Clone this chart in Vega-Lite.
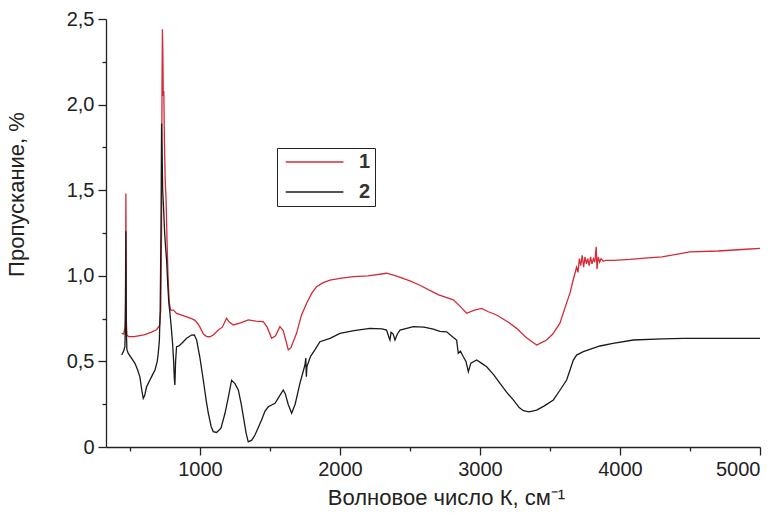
{
  "$schema": "https://vega.github.io/schema/vega-lite/v6.json",
  "autosize": {"type": "none"},
  "width": 654,
  "height": 428,
  "padding": {"left": 106, "top": 19, "right": 22, "bottom": 68},
  "background": "white",
  "config": {
    "view": {"stroke": null},
    "font": "Liberation Sans",
    "axis": {
      "domainColor": "#222",
      "tickColor": "#222",
      "labelColor": "#222",
      "titleColor": "#222",
      "labelFont": "Liberation Sans",
      "titleFont": "Liberation Sans",
      "labelFontSize": 20,
      "titleFontSize": 22,
      "titleFontWeight": "normal",
      "grid": false,
      "domainWidth": 1.3,
      "tickWidth": 1.3
    }
  },
  "data": {"values": [
    {"s":"1","x":441,"y":0.665},{"s":"1","x":455,"y":0.66},{"s":"1","x":465,"y":0.70},{"s":"1","x":468,"y":0.85},{"s":"1","x":471,"y":1.48},{"s":"1","x":474,"y":0.75},{"s":"1","x":478,"y":0.655},{"s":"1","x":490,"y":0.645},{"s":"1","x":530,"y":0.645},{"s":"1","x":600,"y":0.655},{"s":"1","x":650,"y":0.67},{"s":"1","x":690,"y":0.685},{"s":"1","x":712,"y":0.71},{"s":"1","x":720,"y":0.80},{"s":"1","x":726,"y":1.30},{"s":"1","x":729,"y":2.10},{"s":"1","x":732,"y":2.44},{"s":"1","x":735,"y":2.30},{"s":"1","x":738,"y":2.05},{"s":"1","x":742,"y":2.08},{"s":"1","x":746,"y":1.80},{"s":"1","x":752,"y":1.55},{"s":"1","x":758,"y":1.45},{"s":"1","x":765,"y":1.20},{"s":"1","x":772,"y":1.00},{"s":"1","x":780,"y":0.85},{"s":"1","x":790,"y":0.80},{"s":"1","x":810,"y":0.80},{"s":"1","x":833,"y":0.78},{"s":"1","x":870,"y":0.77},{"s":"1","x":905,"y":0.76},{"s":"1","x":940,"y":0.75},{"s":"1","x":964,"y":0.74},{"s":"1","x":985,"y":0.72},{"s":"1","x":1000,"y":0.70},{"s":"1","x":1025,"y":0.66},{"s":"1","x":1048,"y":0.645},{"s":"1","x":1071,"y":0.644},{"s":"1","x":1095,"y":0.654},{"s":"1","x":1131,"y":0.683},{"s":"1","x":1160,"y":0.70},{"s":"1","x":1190,"y":0.752},{"s":"1","x":1210,"y":0.73},{"s":"1","x":1238,"y":0.713},{"s":"1","x":1290,"y":0.725},{"s":"1","x":1345,"y":0.742},{"s":"1","x":1400,"y":0.735},{"s":"1","x":1452,"y":0.732},{"s":"1","x":1480,"y":0.70},{"s":"1","x":1512,"y":0.635},{"s":"1","x":1540,"y":0.65},{"s":"1","x":1571,"y":0.703},{"s":"1","x":1595,"y":0.68},{"s":"1","x":1631,"y":0.567},{"s":"1","x":1650,"y":0.58},{"s":"1","x":1690,"y":0.664},{"s":"1","x":1725,"y":0.77},{"s":"1","x":1762,"y":0.84},{"s":"1","x":1800,"y":0.90},{"s":"1","x":1833,"y":0.936},{"s":"1","x":1880,"y":0.96},{"s":"1","x":1929,"y":0.975},{"s":"1","x":2000,"y":0.985},{"s":"1","x":2095,"y":0.995},{"s":"1","x":2200,"y":1.00},{"s":"1","x":2333,"y":1.015},{"s":"1","x":2400,"y":1.00},{"s":"1","x":2500,"y":0.97},{"s":"1","x":2571,"y":0.945},{"s":"1","x":2700,"y":0.89},{"s":"1","x":2810,"y":0.86},{"s":"1","x":2860,"y":0.82},{"s":"1","x":2905,"y":0.781},{"s":"1","x":2960,"y":0.80},{"s":"1","x":3012,"y":0.81},{"s":"1","x":3060,"y":0.79},{"s":"1","x":3119,"y":0.771},{"s":"1","x":3200,"y":0.73},{"s":"1","x":3262,"y":0.693},{"s":"1","x":3330,"y":0.64},{"s":"1","x":3405,"y":0.596},{"s":"1","x":3440,"y":0.61},{"s":"1","x":3476,"y":0.625},{"s":"1","x":3520,"y":0.66},{"s":"1","x":3571,"y":0.723},{"s":"1","x":3610,"y":0.82},{"s":"1","x":3643,"y":0.90},{"s":"1","x":3667,"y":0.98},{"s":"1","x":3690,"y":1.05},{"s":"1","x":3700,"y":1.02},{"s":"1","x":3710,"y":1.10},{"s":"1","x":3720,"y":1.06},{"s":"1","x":3730,"y":1.12},{"s":"1","x":3740,"y":1.05},{"s":"1","x":3750,"y":1.11},{"s":"1","x":3760,"y":1.07},{"s":"1","x":3770,"y":1.10},{"s":"1","x":3780,"y":1.06},{"s":"1","x":3790,"y":1.11},{"s":"1","x":3800,"y":1.07},{"s":"1","x":3810,"y":1.10},{"s":"1","x":3820,"y":1.08},{"s":"1","x":3830,"y":1.17},{"s":"1","x":3836,"y":1.04},{"s":"1","x":3845,"y":1.11},{"s":"1","x":3855,"y":1.08},{"s":"1","x":3865,"y":1.10},{"s":"1","x":3880,"y":1.085},{"s":"1","x":3900,"y":1.09},{"s":"1","x":3952,"y":1.09},{"s":"1","x":4071,"y":1.096},{"s":"1","x":4200,"y":1.105},{"s":"1","x":4300,"y":1.11},{"s":"1","x":4500,"y":1.14},{"s":"1","x":4700,"y":1.145},{"s":"1","x":4900,"y":1.155},{"s":"1","x":5000,"y":1.16},
    {"s":"2","x":441,"y":0.537},{"s":"2","x":455,"y":0.56},{"s":"2","x":464,"y":0.586},{"s":"2","x":468,"y":0.75},{"s":"2","x":471,"y":1.26},{"s":"2","x":474,"y":0.70},{"s":"2","x":478,"y":0.57},{"s":"2","x":488,"y":0.547},{"s":"2","x":510,"y":0.52},{"s":"2","x":536,"y":0.489},{"s":"2","x":555,"y":0.45},{"s":"2","x":571,"y":0.41},{"s":"2","x":585,"y":0.33},{"s":"2","x":595,"y":0.284},{"s":"2","x":605,"y":0.30},{"s":"2","x":619,"y":0.352},{"s":"2","x":630,"y":0.37},{"s":"2","x":643,"y":0.391},{"s":"2","x":660,"y":0.42},{"s":"2","x":679,"y":0.45},{"s":"2","x":695,"y":0.50},{"s":"2","x":702,"y":0.547},{"s":"2","x":710,"y":0.62},{"s":"2","x":716,"y":0.80},{"s":"2","x":722,"y":1.30},{"s":"2","x":726,"y":1.89},{"s":"2","x":730,"y":1.70},{"s":"2","x":734,"y":1.50},{"s":"2","x":740,"y":1.40},{"s":"2","x":748,"y":1.25},{"s":"2","x":756,"y":1.15},{"s":"2","x":762,"y":1.09},{"s":"2","x":770,"y":0.95},{"s":"2","x":778,"y":0.84},{"s":"2","x":786,"y":0.78},{"s":"2","x":795,"y":0.70},{"s":"2","x":805,"y":0.60},{"s":"2","x":812,"y":0.50},{"s":"2","x":817,"y":0.40},{"s":"2","x":821,"y":0.362},{"s":"2","x":826,"y":0.50},{"s":"2","x":833,"y":0.586},{"s":"2","x":850,"y":0.59},{"s":"2","x":869,"y":0.605},{"s":"2","x":905,"y":0.635},{"s":"2","x":940,"y":0.654},{"s":"2","x":960,"y":0.655},{"s":"2","x":976,"y":0.625},{"s":"2","x":1000,"y":0.52},{"s":"2","x":1024,"y":0.39},{"s":"2","x":1045,"y":0.27},{"s":"2","x":1060,"y":0.197},{"s":"2","x":1080,"y":0.12},{"s":"2","x":1095,"y":0.09},{"s":"2","x":1119,"y":0.085},{"s":"2","x":1150,"y":0.11},{"s":"2","x":1179,"y":0.197},{"s":"2","x":1205,"y":0.30},{"s":"2","x":1226,"y":0.39},{"s":"2","x":1250,"y":0.37},{"s":"2","x":1274,"y":0.333},{"s":"2","x":1295,"y":0.25},{"s":"2","x":1310,"y":0.177},{"s":"2","x":1330,"y":0.08},{"s":"2","x":1345,"y":0.03},{"s":"2","x":1370,"y":0.04},{"s":"2","x":1393,"y":0.07},{"s":"2","x":1420,"y":0.12},{"s":"2","x":1440,"y":0.158},{"s":"2","x":1465,"y":0.21},{"s":"2","x":1488,"y":0.235},{"s":"2","x":1536,"y":0.255},{"s":"2","x":1570,"y":0.30},{"s":"2","x":1595,"y":0.333},{"s":"2","x":1610,"y":0.31},{"s":"2","x":1630,"y":0.25},{"s":"2","x":1655,"y":0.197},{"s":"2","x":1680,"y":0.25},{"s":"2","x":1714,"y":0.372},{"s":"2","x":1740,"y":0.45},{"s":"2","x":1750,"y":0.479},{"s":"2","x":1756,"y":0.52},{"s":"2","x":1760,"y":0.41},{"s":"2","x":1764,"y":0.47},{"s":"2","x":1790,"y":0.53},{"s":"2","x":1821,"y":0.567},{"s":"2","x":1857,"y":0.615},{"s":"2","x":1929,"y":0.635},{"s":"2","x":2000,"y":0.664},{"s":"2","x":2100,"y":0.68},{"s":"2","x":2214,"y":0.693},{"s":"2","x":2300,"y":0.69},{"s":"2","x":2333,"y":0.683},{"s":"2","x":2350,"y":0.64},{"s":"2","x":2357,"y":0.625},{"s":"2","x":2365,"y":0.67},{"s":"2","x":2380,"y":0.66},{"s":"2","x":2393,"y":0.625},{"s":"2","x":2410,"y":0.66},{"s":"2","x":2429,"y":0.683},{"s":"2","x":2524,"y":0.703},{"s":"2","x":2600,"y":0.70},{"s":"2","x":2667,"y":0.689},{"s":"2","x":2714,"y":0.675},{"s":"2","x":2762,"y":0.673},{"s":"2","x":2810,"y":0.64},{"s":"2","x":2833,"y":0.625},{"s":"2","x":2840,"y":0.58},{"s":"2","x":2845,"y":0.547},{"s":"2","x":2860,"y":0.56},{"s":"2","x":2881,"y":0.527},{"s":"2","x":2900,"y":0.50},{"s":"2","x":2917,"y":0.44},{"s":"2","x":2935,"y":0.49},{"s":"2","x":2976,"y":0.508},{"s":"2","x":3010,"y":0.49},{"s":"2","x":3048,"y":0.469},{"s":"2","x":3100,"y":0.42},{"s":"2","x":3143,"y":0.372},{"s":"2","x":3190,"y":0.32},{"s":"2","x":3238,"y":0.275},{"s":"2","x":3280,"y":0.23},{"s":"2","x":3310,"y":0.212},{"s":"2","x":3350,"y":0.205},{"s":"2","x":3405,"y":0.216},{"s":"2","x":3460,"y":0.24},{"s":"2","x":3524,"y":0.275},{"s":"2","x":3570,"y":0.33},{"s":"2","x":3619,"y":0.391},{"s":"2","x":3667,"y":0.508},{"s":"2","x":3690,"y":0.537},{"s":"2","x":3738,"y":0.557},{"s":"2","x":3800,"y":0.575},{"s":"2","x":3857,"y":0.59},{"s":"2","x":3950,"y":0.605},{"s":"2","x":4095,"y":0.625},{"s":"2","x":4300,"y":0.632},{"s":"2","x":4452,"y":0.635},{"s":"2","x":4700,"y":0.635},{"s":"2","x":5000,"y":0.635}
  ]},
  "mark": {"type": "line", "strokeWidth": 1.3, "clip": true},
  "encoding": {
    "x": {
      "field": "x", "type": "quantitative",
      "scale": {"domain": [329, 5000], "nice": false, "zero": false},
      "axis": {
        "title": "Волновое число К, см⁻¹",
        "values": [500, 1000, 1500, 2000, 2500, 3000, 3500, 4000, 4500, 5000],
        "labelExpr": "datum.value % 1000 == 0 ? format(datum.value, 'd') : ''",
        "tickSize": {"condition": {"test": "datum.value % 1000 == 0", "value": 8}, "value": 4},
        "labelPadding": 4,
        "titlePadding": 8,
        "titleX": 340
      }
    },
    "y": {
      "field": "y", "type": "quantitative",
      "scale": {"domain": [0, 2.5], "nice": false},
      "axis": {
        "title": "Пропускание, %",
        "values": [0, 0.25, 0.5, 0.75, 1, 1.25, 1.5, 1.75, 2, 2.25, 2.5],
        "labelExpr": "datum.value == 0 ? '0' : (round(datum.value * 100) % 50 == 0 ? replace(format(datum.value, '.1f'), '.', ',') : '')",
        "tickSize": {"condition": {"test": "round(datum.value * 100) % 50 == 0", "value": 8}, "value": 4},
        "labelPadding": 4,
        "titleX": -78,
        "titleY": 175,
        "titleAngle": -90,
        "titleAlign": "center"
      }
    },
    "color": {
      "field": "s", "type": "nominal",
      "scale": {"domain": ["1", "2"], "range": ["#d42a35", "#1a1a1a"]},
      "legend": {
        "title": null,
        "orient": "none",
        "legendX": 171,
        "legendY": 129,
        "symbolType": "M-1,0H10",
        "symbolSize": 110,
        "symbolStrokeWidth": 1.3,
        "symbolFillColor": "transparent",
        "labelFont": "Liberation Sans",
        "labelFontSize": 20,
        "labelFontWeight": "bold",
        "labelColor": "#333",
        "strokeColor": "#222",
        "padding": 4,
        "rowPadding": 10,
        "labelOffset": 58
      }
    }
  }
}
